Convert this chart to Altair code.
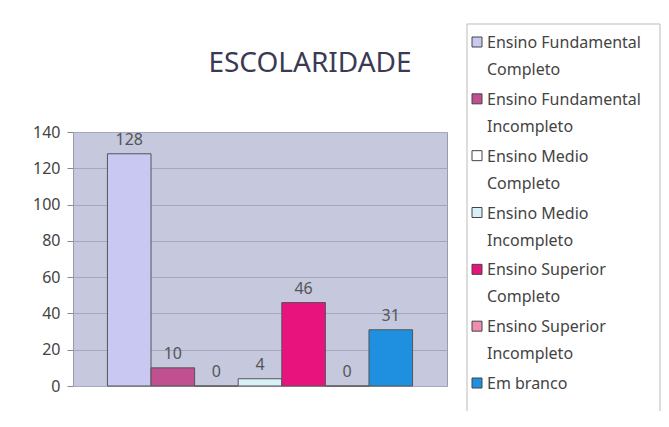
import altair as alt
import pandas as pd

categories = ["EFC", "EFI", "EMC", "EMI", "ESC", "ESI", "EB"]
labels = [
    "Ensino Fundamental|Completo",
    "Ensino Fundamental|Incompleto",
    "Ensino Medio|Completo",
    "Ensino Medio|Incompleto",
    "Ensino Superior|Completo",
    "Ensino Superior|Incompleto",
    "Em branco",
]
values = [128, 10, 0, 4, 46, 0, 31]
colors = ["#c8c8f2", "#c0508f", "#ffffff", "#d8f0f8", "#e8137d", "#f08cb0", "#1f8fe0"]
y_ticks = [0, 20, 40, 60, 80, 100, 120, 140]
title_text = "ESCOLARIDADE"

df = pd.DataFrame({"cat": categories, "label": labels, "value": values})

FONT = "Comic Sans MS, Noto Sans"

x_enc = alt.X("cat:N", sort=categories, axis=None,
              scale=alt.Scale(paddingInner=0, paddingOuter=0.79))
y_enc = alt.Y("value:Q", scale=alt.Scale(domain=[0, 140], nice=False),
              axis=alt.Axis(values=y_ticks, title=None, grid=True, gridColor="#a4a8bf",
                            domain=False, tickColor="#888", tickSize=6, labelOverlap=False,
                            labelFontSize=16, labelColor="#444", labelFont=FONT,
                            labelPadding=7))

bars = alt.Chart(df).mark_bar(stroke="#555", strokeWidth=1).encode(
    x=x_enc, y=y_enc,
    color=alt.Color("label:N", scale=alt.Scale(domain=labels, range=colors), legend=None),
)
vals = alt.Chart(df).mark_text(baseline="bottom", dy=-6, fontSize=16, color="#555", font=FONT).encode(
    x=x_enc, y=y_enc, text="value:Q"
)
plot = alt.layer(bars, vals)

ly = alt.Y("label:N", axis=None,
           scale=alt.Scale(type="point", domain=labels, range=[-90, 251], padding=0))
box = alt.Chart(df).mark_rect(fill="white", stroke="#bbbbbb", strokeWidth=1).encode(
    x=alt.value(394), x2=alt.value(587), y=alt.value(-108), y2=alt.value(288)
).transform_filter("datum.cat == 'EFC'")
sym = alt.Chart(df).mark_square(size=100, stroke="#444", strokeWidth=1, opacity=1).encode(
    x=alt.value(404), y=ly,
    color=alt.Color("label:N", scale=alt.Scale(domain=labels, range=colors), legend=None),
)
txt = alt.Chart(df).transform_calculate(lines="split(datum.label, '|')").mark_text(
    align="left", baseline="alphabetic", dy=6, fontSize=16, lineHeight=27,
    color="#444", font=FONT
).encode(x=alt.value(414), y=ly, text="lines:N")
ttl = alt.Chart(df).transform_filter("datum.cat == 'EFC'").mark_text(
    text=title_text, fontSize=28, font=FONT, color="#3a3a55", align="center", baseline="alphabetic"
).encode(x=alt.value(237), y=alt.value(-60))
legend = alt.layer(box, sym, txt, ttl)

chart = alt.layer(plot, legend).resolve_scale(y="independent", color="independent").properties(
    width=374, height=254,
    autosize=alt.AutoSizeParams(type="none"),
    padding={"left": 65, "top": 124, "right": 214, "bottom": 25},
).configure(background="white").configure_view(fill="#c6c8de", stroke="#9a9ab0")

chart.save("out.html", embed_options={"renderer": "svg", "actions": False})
